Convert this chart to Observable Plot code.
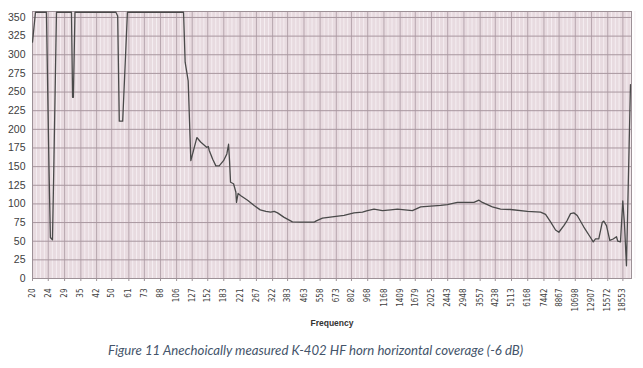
<!DOCTYPE html>
<html><head><meta charset="utf-8">
<script src="https://cdn.jsdelivr.net/npm/d3@7"></script>
<script src="https://cdn.jsdelivr.net/npm/@observablehq/plot@0.6"></script>
<style>
html,body{margin:0;padding:0;background:#fff;width:643px;height:368px;overflow:hidden}
#chart{position:absolute;left:0;top:0}
#caption{position:absolute;left:108px;top:342px;font-family:Lato,"Open Sans",sans-serif;font-style:italic;font-size:13.2px;color:#44546a;white-space:nowrap}
</style></head>
<body>
<div id="chart"></div>
<div id="caption">Figure 11 Anechoically measured K-402 HF horn horizontal coverage (-6 dB)</div>
<script>
const freqLabels = [20,24,29,35,42,50,61,73,88,106,127,152,183,221,267,322,383,463,558,673,802,968,1168,1409,1679,2025,2443,2948,3557,4238,5113,6168,7442,8867,10698,12907,15572,18553];
const yTicks = [0,25,50,75,100,125,150,175,200,225,250,275,300,325,350];

const freq = [20,20.7,23.5,24.2,24.6,25.2,25.6,26.4,31.4,31.8,32.1,32.7,52.5,53.6,54.6,56.8,60,114.9,117,121.2,125,134,140,150,153,154.5,161,167,173.5,182.5,189.6,193.4,195.6,197.9,204.9,210.4,212,216,223,241,260,279,298,315,328,341,368,405,446,520,531,573,656,736,826,911,965,1041,1148,1263,1365,1623,1787,2252,2434,2732,3310,3508,3648,4095,4506,5060,6137,7158,7584,8034,8512,8844,9370,9746,10126,10518,10940,11808,12757,13162,13516,14039,14602,14875,15346,15944,16584,17229,17490,18044,18533,18900,19338,20260];
const coverage = [317,357,357,150,55,52,150,357,357,243,243,357,357,352,211,211,357,357,290,265,158,189,183,176,177,172,160,151,151,158,167,180,158,129,127,116,102,114,111,105,98,92,90,89,90,88,82,76,75.5,75.5,77,81,83,84.5,88,89,91,93,91,92,93,91,96,98,99,102,102,105,102,96,93,92.5,90,89,86,76,65,62,71,78,87,88,84.5,69,55,49,53,53,75,77,71,51,53,56,50,49,104,73,17,260];

const data = freq.map((f, i) => ({f, v: coverage[i]}));

// minor vertical grid: quarter steps between labelled frequencies
const minor = [];
for (let i = 0; i < freqLabels.length - 1; i++) {
  const a = freqLabels[i], b = freqLabels[i + 1];
  for (let j = 1; j < 4; j++) minor.push(a * Math.pow(b / a, j / 4));
}
{ const a = 18553, b = 18553 * 1.2028; for (let j = 1; j < 4; j++) minor.push(a * Math.pow(b / a, j / 4)); }

const chart = Plot.plot({
  width: 643,
  height: 338,
  marginLeft: 32,
  marginRight: 12,
  marginTop: 11,
  marginBottom: 60,
  style: {background: "transparent", fontFamily: "'Liberation Sans', Arial, sans-serif"},
  x: {type: "log", domain: [20, 20500]},
  y: {domain: [0, 358]},
  marks: [
    Plot.frame({fill: "#e8dbe0"}),
    Plot.gridX(minor, {stroke: "#f6f0f3", strokeOpacity: 0.9}),
    Plot.gridX(freqLabels, {stroke: "#b7a6ae", strokeOpacity: 1}),
    Plot.gridY(yTicks, {stroke: "#a8979f", strokeOpacity: 1}),
    Plot.frame({stroke: "#9d9197"}),
    Plot.axisY(yTicks, {tickSize: 0, tickPadding: 7, fontSize: 10.5, fill: "#404040", label: null}),
    Plot.axisX(freqLabels, {tickSize: 3, tickFormat: () => "", stroke: "#9d9197", label: null}),
    Plot.text(freqLabels, {
      x: d => d, text: d => String(d), frameAnchor: "bottom", rotate: -90,
      textAnchor: "end", lineAnchor: "middle", dy: 10,
      fontSize: 8, fill: "#404040",
      fontFamily: "'Liberation Sans Narrow', 'DejaVu Sans Condensed', sans-serif"
    }),
    Plot.line(data, {x: "f", y: "v", stroke: "#4a4a4a", strokeWidth: 1.3, clip: true}),
    Plot.text(["Frequency"], {text: d => d, frameAnchor: "bottom", dy: 47, fontWeight: "bold", fontSize: 8.5, fill: "#333"})
  ]
});
document.getElementById("chart").appendChild(chart);
</script>
</body></html>
